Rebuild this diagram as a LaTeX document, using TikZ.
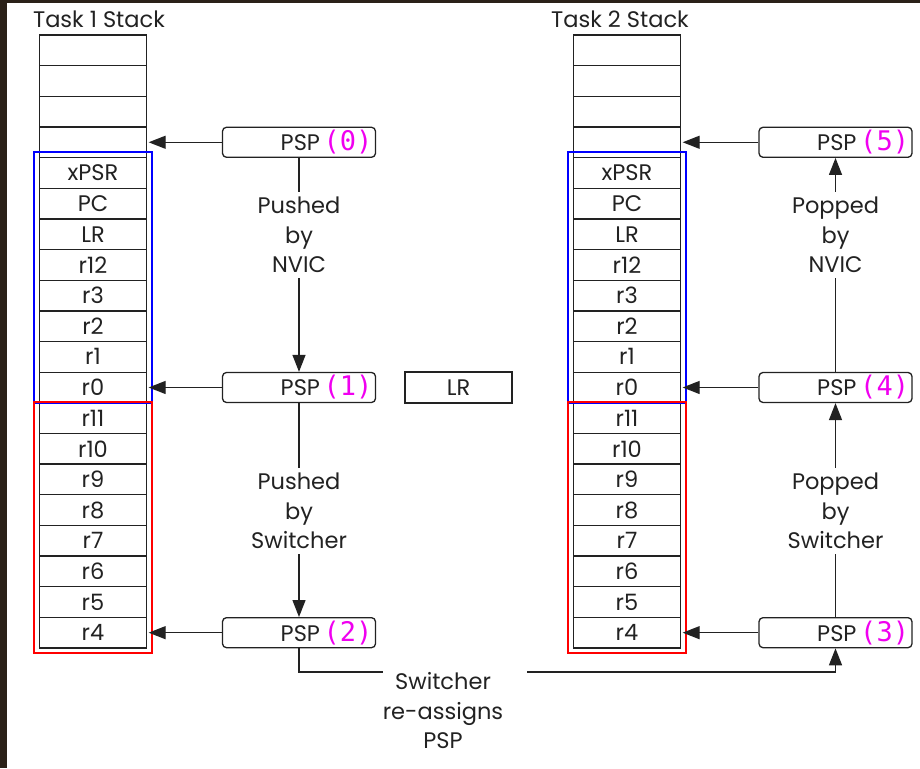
\documentclass[tikz,border=0pt]{standalone}
\usepackage{fontspec}
\setmainfont{Poppins}
\newfontfamily\numfont{DejaVu Sans Mono}
\usetikzlibrary{arrows.meta,positioning,calc}
\definecolor{edgedark}{HTML}{2A2118}
\definecolor{ink}{HTML}{222222}
\definecolor{pspmag}{HTML}{F000F0}
\newcommand{\pspnum}[1]{PSP\,{\numfont\fontsize{27}{28}\selectfont\color{pspmag}(#1)}}

\begin{document}
\begin{tikzpicture}[x=1pt, y=-1pt, >={Triangle[length=17pt,width=13pt]},
  every node/.style={font=\fontsize{22.5}{26}\selectfont, text=ink},
  cell/.style={draw=ink, line width=1.3pt, minimum width=107pt, minimum height=30.65pt, inner sep=0pt},
  pspbox/.style={draw=ink, line width=1.3pt, rounded corners=4pt, minimum width=153pt,
                 minimum height=30pt, inner sep=0pt, text width=147pt, align=right},
  note/.style={align=center, font=\fontsize{22.5}{29.5}\selectfont, inner sep=5pt},
  link/.style={draw=ink, line width=1.3pt}]
  % frame of the screenshot
  \fill[edgedark] (0,0) rectangle (920,768);
  \fill[white] (7,3) rectangle (920,768);

  % the two stacks
  \foreach \r [count=\i] in {{},{},{},{},xPSR,PC,LR,r12,r3,r2,r1,r0,r11,r10,r9,r8,r7,r6,r5,r4} {
    \node[cell] (a\i) at (93,{35+30.65*(\i-0.5)}) {\r};
    \node[cell] (b\i) at (627,{35+30.65*(\i-0.5)}) {\r};
  }
  \node (s1) at (99,19) {Task 1 Stack};
  \node (s2) at (620,19) {Task 2 Stack};
  \foreach \s in {a,b} {
    \draw[blue, line width=2pt] ($(\s5.north west)+(-5,-5)$) rectangle ($(\s12.south east)+(5,0)$);
    \draw[red, line width=2pt] ($(\s13.north west)+(-5,0)$) rectangle ($(\s20.south east)+(5,4)$);
  }

  % stack pointers
  \node[pspbox] (p0) at (299,0 |- a4) {\pspnum{0}};
  \node[pspbox] (p1) at (299,0 |- a12) {\pspnum{1}};
  \node[pspbox] (p2) at (299,0 |- a20) {\pspnum{2}};
  \node[pspbox] (p3) at (835.5,0 |- b20) {\pspnum{3}};
  \node[pspbox] (p4) at (835.5,0 |- b12) {\pspnum{4}};
  \node[pspbox] (p5) at (835.5,0 |- b4) {\pspnum{5}};
  \node[draw=ink, line width=1.3pt, minimum width=107pt, minimum height=31pt] (lr) at (458.5,0 |- a12) {LR};

  \node[note] (n1) at (299,235) {Pushed\\by\\NVIC};
  \node[note] (n2) at (299,511) {Pushed\\by\\Switcher};
  \node[note] (n3) at (835.5,235) {Popped\\by\\NVIC};
  \node[note] (n4) at (835.5,511) {Popped\\by\\Switcher};
  \node[note] (n5) at (443,711) {Switcher\\re-assigns\\PSP};

  \foreach \p/\c in {p0/a4,p1/a12,p2/a20,p5/b4,p4/b12,p3/b20}
    \draw[link,->,shorten >=1.5pt] (\p) -- (\c.east);
  \draw[link] (p0) -- (n1);
  \draw[link,->] (n1) -- (p1);
  \draw[link] (p1) -- (n2);
  \draw[link,->] (n2) -- (p2);
  \draw[link] (p4) -- (n3);
  \draw[link,->] (n3) -- (p5);
  \draw[link] (p3) -- (n4);
  \draw[link,->] (n4) -- (p4);
  \coordinate (j1) at (383,672);
  \coordinate (j2) at (527,672);
  \draw[link] (p2) |- (j1);
  \draw[link,->] (j2) -| (p3);
\end{tikzpicture}
\end{document}
